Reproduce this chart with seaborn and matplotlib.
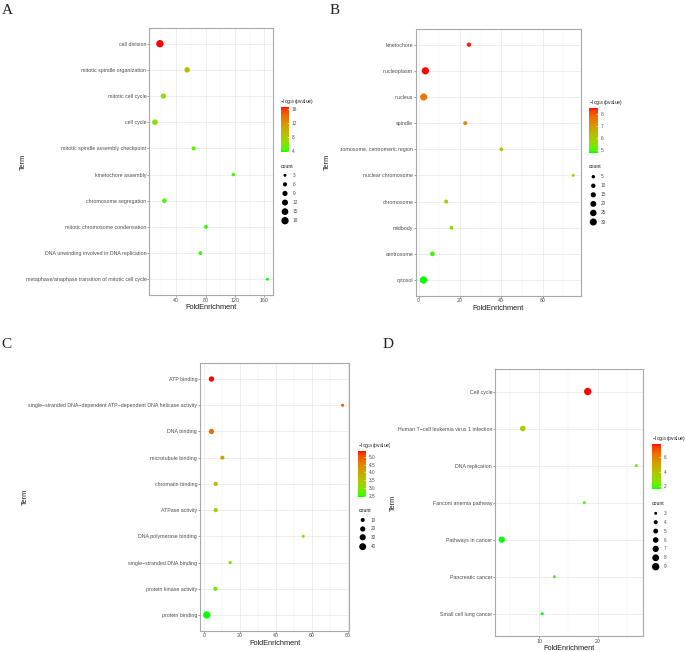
import numpy as np
import pandas as pd
import matplotlib
matplotlib.use("Agg")
import matplotlib.pyplot as plt
from matplotlib.colors import ListedColormap, Normalize
from matplotlib.cm import ScalarMappable
from matplotlib.ticker import AutoMinorLocator
from matplotlib.transforms import Bbox
import seaborn as sns

# ---------------- data ----------------
a_terms = ["cell division", "mitotic spindle organization", "mitotic cell cycle", "cell cycle",
           "mitotic spindle assembly checkpoint", "kinetochore assembly", "chromosome segregation",
           "mitotic chromosome condensation", "DNA unwinding involved in DNA replication",
           "metaphase/anaphase transition of mitotic cell cycle"]
a_fold = [18.0, 55.0, 22.6, 11.2, 63.8, 117.7, 24.0, 80.5, 73.0, 164.0]
a_logp = [16.65, 9.4, 6.6, 6.3, 4.9, 4.3, 4.6, 4.2, 4.2, 3.9]
a_count = [18, 10, 9, 11, 6, 4, 7, 5, 5, 3]
a_xticks = [40, 80, 120, 160]
a_cticks = [4, 8, 12, 16]
a_sbreaks = [3, 6, 9, 12, 15, 18]

b_terms = ["kinetochore", "nucleoplasm", "nucleus", "spindle", "chromosome, centromeric region",
           "nuclear chromosome", "chromosome", "midbody", "centrosome", "cytosol"]
b_fold = [24.3, 3.2, 2.4, 22.5, 40.0, 74.8, 13.3, 15.8, 6.6, 2.3]
b_logp = [8.45, 8.55, 7.6, 7.3, 6.3, 6.1, 5.8, 5.5, 4.9, 4.77]
b_count = [10, 32, 31, 8, 6, 3, 8, 7, 12, 33]
b_xticks = [0, 20, 40, 60]
b_cticks = [5, 6, 7, 8]
b_sbreaks = [5, 10, 15, 20, 25, 30]

c_terms = ["ATP binding", "single\u2212stranded DNA\u2212dependent ATP\u2212dependent DNA helicase activity",
           "DNA binding", "microtubule binding", "chromatin binding", "ATPase activity",
           "DNA polymerase binding", "single\u2212stranded DNA binding", "protein kinase activity",
           "protein binding"]
c_fold = [4.1, 77.2, 4.1, 10.2, 6.5, 6.5, 55.3, 14.5, 6.3, 1.5]
c_logp = [5.4, 4.9, 4.8, 4.1, 3.7, 3.3, 3.0, 2.9, 2.7, 2.43]
c_count = [22, 4, 20, 10, 12, 12, 3, 5, 11, 45]
c_xticks = [0, 20, 40, 60, 80]
c_cticks = [2.5, 3.0, 3.5, 4.0, 4.5, 5.0]
c_sbreaks = [10, 20, 30, 40]

d_terms = ["Cell cycle", "Human T\u2212cell leukemia virus 1 infection", "DNA replication",
           "Fanconi anemia pathway", "Pathways in cancer", "Pancreatic cancer", "Small cell lung cancer"]
d_fold = [18.3, 7.2, 26.6, 17.7, 3.6, 12.6, 10.5]
d_logp = [7.86, 3.4, 2.1, 1.9, 1.6, 1.75, 1.58]
d_count = [9, 6, 3, 3, 7, 3, 3]
d_xticks = [10, 20]
d_cticks = [2, 4, 6]
d_sbreaks = [3, 4, 5, 6, 7, 8, 9]

# ---------------- style ----------------
plt.rcParams['font.family'] = ['Liberation Sans', 'DejaVu Sans']
plt.rcParams['mathtext.default'] = 'regular'

W, H = 685, 652
fig = plt.figure(figsize=(W / 100, H / 100), dpi=100)
fig.patch.set_facecolor('white')


def rect(l, r, t, b):
    return [l / W, 1 - b / H, (r - l) / W, (b - t) / H]


# green -> red gradient interpolated in CIE Lab (like ggplot2)
_M = np.array([[0.4124, 0.3576, 0.1805], [0.2126, 0.7152, 0.0722], [0.0193, 0.1192, 0.9505]])
_WHITE = np.array([0.95047, 1.0, 1.08883])


def srgb_to_lab(rgb):
    c = np.asarray(rgb, float)
    lin = np.where(c <= 0.04045, c / 12.92, ((c + 0.055) / 1.055) ** 2.4)
    t = (_M @ lin) / _WHITE
    f = np.where(t > 0.008856, np.cbrt(t), 7.787 * t + 16 / 116)
    return np.array([116 * f[1] - 16, 500 * (f[0] - f[1]), 200 * (f[1] - f[2])])


def lab_to_srgb(lab):
    L, a, b = lab
    fy = (L + 16) / 116
    f = np.array([fy + a / 500, fy, fy - b / 200])
    t = np.where(f ** 3 > 0.008856, f ** 3, (f - 16 / 116) / 7.787)
    lin = np.clip(np.linalg.inv(_M) @ (t * _WHITE), 0, 1)
    c = np.where(lin <= 0.0031308, 12.92 * lin, 1.055 * lin ** (1 / 2.4) - 0.055)
    return np.clip(c, 0, 1)


lab_lo = srgb_to_lab([0, 1, 0])
lab_hi = srgb_to_lab([1, 0, 0])
cmap = ListedColormap([lab_to_srgb(lab_lo + (lab_hi - lab_lo) * t) for t in np.linspace(0, 1, 256)])

SMIN, SMAX = 4.5, 28
TICKCOL = '#4D4D4D'
TICKFS = 3.75

overlay = fig.add_axes([0, 0, 1, 1], zorder=10)
overlay.set_xlim(0, W)
overlay.set_ylim(H, 0)
overlay.axis('off')
overlay.patch.set_alpha(0)


def panel(terms, fold, logp, count, xticks, cticks, sbreaks, axr, cbr, title_xy, count_title_y,
          entry_ys, mark_x, lab_x, term_x, letter, letter_xy, cdec=False):
    l, r, t, b = axr
    ax = fig.add_axes(rect(l, r, t, b))
    df = pd.DataFrame({'Term': terms, 'FoldEnrichment': fold, 'logp': logp, 'count': count})
    norm = Normalize(min(logp), max(logp))
    snorm = (min(count), max(count))
    sns.scatterplot(data=df, x='FoldEnrichment', y='Term', hue='logp', palette=cmap, hue_norm=norm,
                    size='count', sizes=(SMIN, SMAX), size_norm=snorm, linewidth=0,
                    edgecolor='none', legend=False, ax=ax, zorder=3)
    n = len(terms)
    ax.set_ylim(n - 1 + 0.6, -0.6)
    lo, hi = min(fold), max(fold)
    pad = 0.05 * (hi - lo)
    ax.set_xlim(lo - pad, hi + pad)
    ax.set_xticks(xticks)
    ax.xaxis.set_minor_locator(AutoMinorLocator(2))
    ax.set_axisbelow(True)
    ax.grid(True, which='major', color='#EBEBEB', lw=0.6)
    ax.grid(True, which='minor', axis='x', color='#F2F2F2', lw=0.35)
    ax.tick_params(axis='both', which='major', labelsize=TICKFS, labelcolor=TICKCOL, color='#555555',
                   length=1.4, width=0.4, pad=0.6)
    ax.tick_params(axis='x', which='minor', length=0)
    for s in ax.spines.values():
        s.set_color('#A8A8A8')
        s.set_linewidth(0.8)
    ax.set_xlabel('FoldEnrichment', fontsize=5.3, color='#1A1A1A')
    ax.xaxis.set_label_coords(((l + r) / 2) / W, 1 - (b + 12.5) / H, transform=fig.transFigure)
    ax.xaxis.label.set_va('center')
    ax.set_ylabel('Term', fontsize=5.3, color='#1A1A1A')
    ax.yaxis.set_label_coords(term_x / W, 1 - ((t + b) / 2) / H, transform=fig.transFigure)
    ax.yaxis.label.set_va('center')

    # colour bar
    cl, cr, ct, cb = cbr
    cax = fig.add_axes(rect(cl, cr, ct, cb))
    sm = ScalarMappable(norm=norm, cmap=cmap)
    cbar = fig.colorbar(sm, cax=cax, ticks=cticks)
    cbar.outline.set_visible(False)
    cax.tick_params(length=1.6, width=0.4, color='white', direction='in', labelsize=3.4,
                    labelcolor=TICKCOL, pad=2)
    if cdec:
        cbar.set_ticklabels([f'{v:.1f}' for v in cticks])
    else:
        cbar.set_ticklabels([f'{v:g}' for v in cticks])
    ttl = overlay.text(title_xy[0], title_xy[1], '\u2212log$_{10}$(pvalue)', fontsize=3.7,
                       ha='left', va='center', color='#1A1A1A')

    # size legend
    overlay.text(title_xy[0], count_title_y, 'count', fontsize=3.7, ha='left', va='center', color='#1A1A1A')
    ssz = [SMIN + (SMAX - SMIN) * (v - snorm[0]) / (snorm[1] - snorm[0]) for v in sbreaks]
    overlay.scatter([mark_x] * len(sbreaks), entry_ys, s=ssz, c='black', linewidths=0)
    for v, y in zip(sbreaks, entry_ys):
        overlay.text(lab_x, y, f'{v}', fontsize=3.4, ha='left', va='center', color=TICKCOL)

    overlay.text(letter_xy[0], letter_xy[1], letter, fontsize=11, family='Liberation Serif',
                 ha='left', va='baseline', color='#222222')
    return ax, ttl


axA, _ = panel(a_terms, a_fold, a_logp, a_count, a_xticks, a_cticks, a_sbreaks,
               (149.3, 273, 28, 295), (280.7, 289.3, 106.7, 151.7), (280.5, 101), 166,
               np.linspace(175.3, 220.7, 6), 285, 292.5, 23.3, 'A', (1.5, 13.5))
axB, _ = panel(b_terms, b_fold, b_logp, b_count, b_xticks, b_cticks, b_sbreaks,
               (416, 580.7, 29, 295.7), (589.3, 597.7, 107.7, 152.7), (589, 102.5), 167,
               np.linspace(176.7, 222, 6), 593.3, 600.5, 327.5, 'B', (329.5, 13.5))
axC, ttlC = panel(c_terms, c_fold, c_logp, c_count, c_xticks, c_cticks, c_sbreaks,
                  (200, 349.3, 363.3, 630.7), (357.7, 366, 450.7, 496.7), (358.3, 445), 510,
                  [520, 529, 537.3, 546.7], 362.7, 370.5, 25, 'C', (1.5, 348.5), cdec=True)
axD, _ = panel(d_terms, d_fold, d_logp, d_count, d_xticks, d_cticks, d_sbreaks,
               (495, 643, 369.3, 636), (651.7, 660.7, 444, 489), (651.7, 438.5), 503.7,
               np.linspace(513.3, 566.7, 7), 655.7, 663.5, 393.3, 'D', (382.5, 348.5))

fig.canvas.draw()
clipB = Bbox.from_extents(340, 0, W, H)
for tl in axB.get_yticklabels():
    tl.set_clip_box(clipB)
    tl.set_clip_on(True)
ttlC.set_clip_box(Bbox.from_extents(0, 0, 390, H))
ttlC.set_clip_on(True)

fig.savefig('out.png', dpi=100, facecolor='white')
